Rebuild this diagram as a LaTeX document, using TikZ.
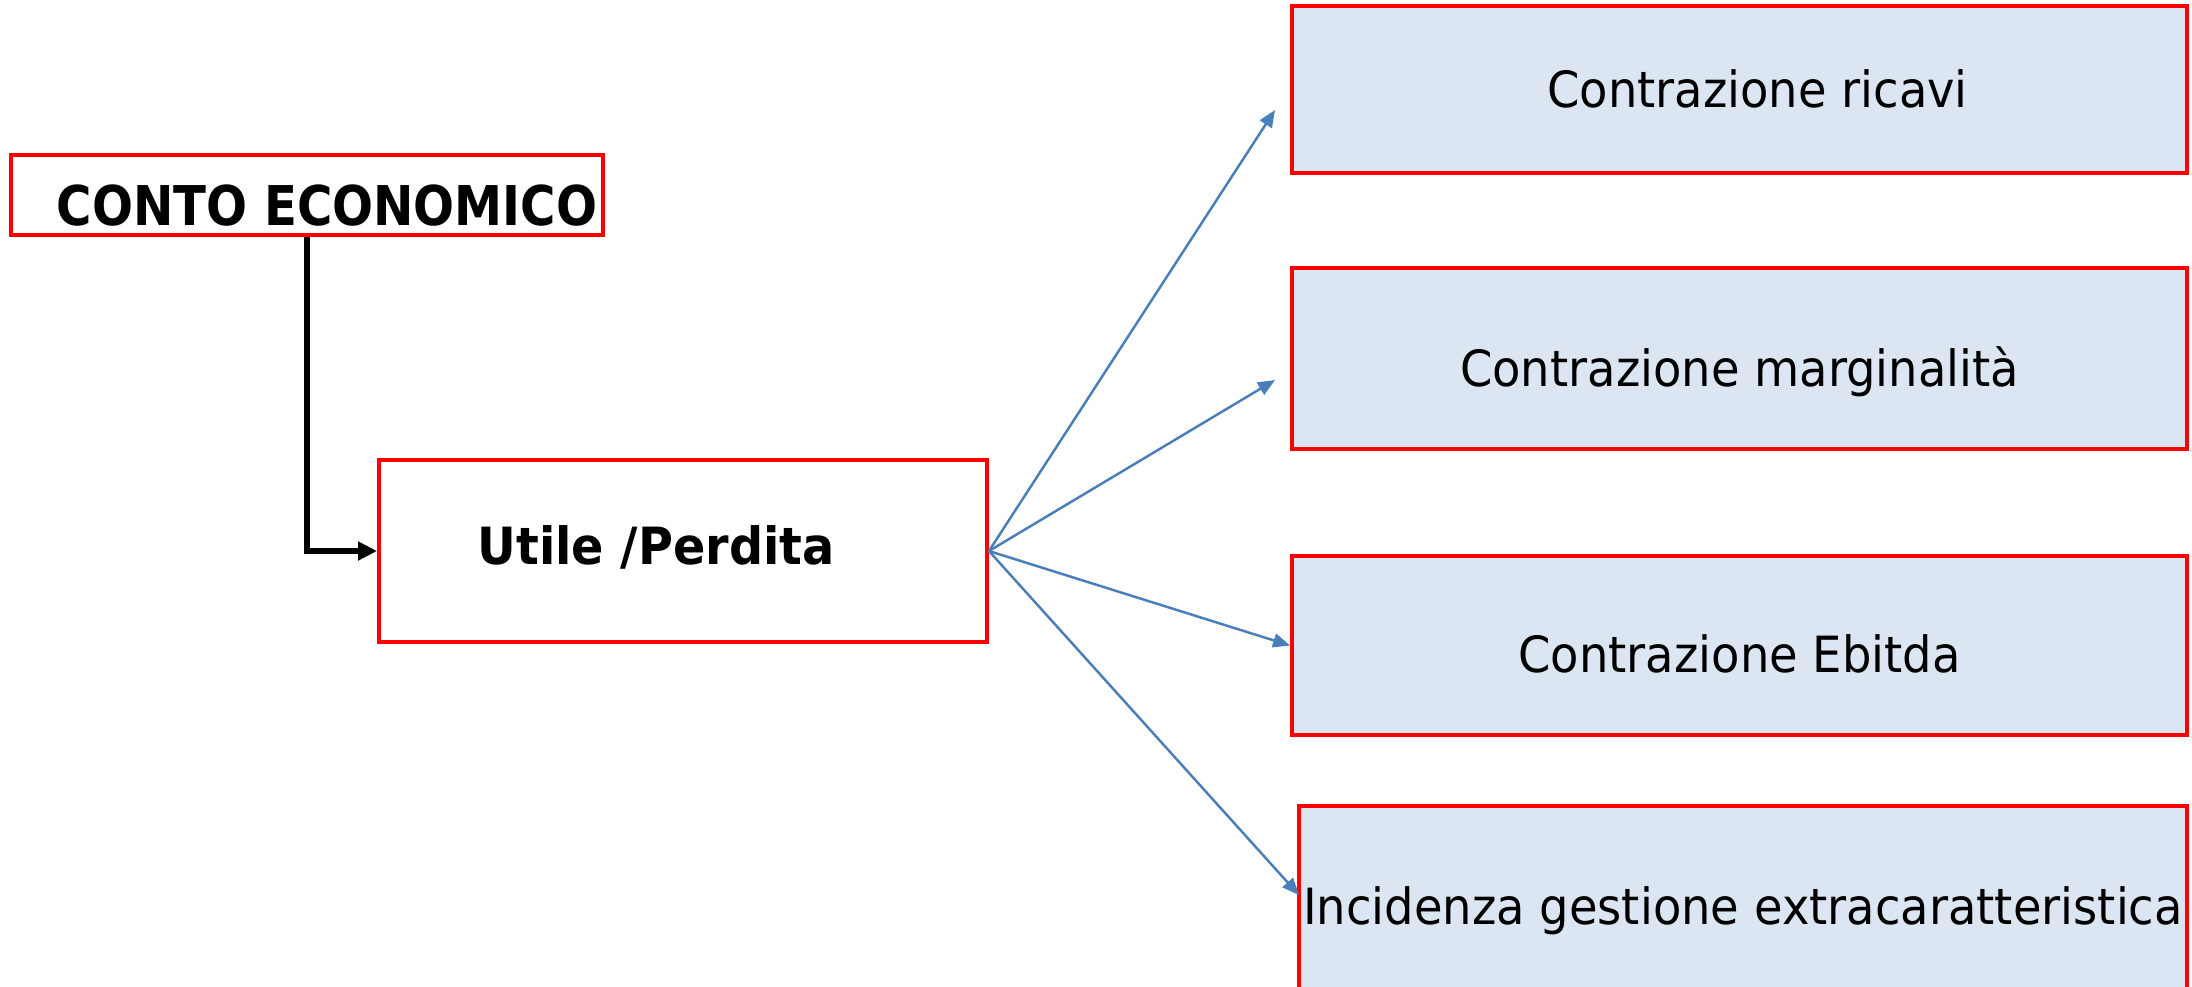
\documentclass[tikz,border=0pt]{standalone}
\usepackage{fontspec}
\usepackage{xcolor}
\usepackage{tikz}
\usetikzlibrary{arrows.meta,positioning,calc}
\newfontfamily\boxfont[FakeStretch=0.93]{DejaVu Sans}
\newfontfamily\headfont[FakeStretch=0.88]{DejaVu Sans}
\definecolor{myred}{RGB}{255,0,0}
\definecolor{myblue}{RGB}{74,126,187}
\definecolor{myfill}{RGB}{220,230,242}

\begin{document}
\begin{tikzpicture}[
    redbox/.style={draw=myred, line width=1.1pt, inner sep=0pt, text depth=0pt},
    itembox/.style={redbox, fill=myfill, minimum width=8.95cm,
                    font=\boxfont\fontsize{14.2}{16}\selectfont},
    link/.style={myblue, line width=0.7pt,
                 -{Triangle[length=0.17cm,width=0.14cm]}}]
  \path[use as bounding box, clip] (0,0) rectangle (21.92,-9.86);
  % Left boxes
  \node[redbox, minimum width=5.92cm, minimum height=0.80cm, text height=0.60cm,
        font=\headfont\bfseries\fontsize{15.6}{18}\selectfont]
    (ce) at (3.07,-1.95) {\hspace*{0.40cm}CONTO ECONOMICO};
  \node[redbox, minimum width=6.08cm, minimum height=1.82cm, text height=0.26cm,
        font=\boxfont\bfseries\fontsize{14.6}{17}\selectfont]
    (up) at (6.83,-5.51) {Utile /Perdita\hspace*{0.54cm}};
  % Right boxes
  \node[itembox, minimum height=1.67cm, text height=0.36cm]
    (r1) at (17.395,-0.895) {\hspace*{0.36cm}Contrazione ricavi};
  \node[itembox, minimum height=1.81cm, text height=0.55cm]
    (r2) at (17.395,-3.585) {Contrazione marginalità};
  \node[itembox, minimum height=1.79cm, text height=0.53cm]
    (r3) at (17.395,-6.455) {Contrazione Ebitda};
  \node[itembox, minimum width=8.88cm, minimum height=2.00cm, text height=0.36cm]
    (r4) at (17.43,-9.06) {Incidenza gestione extracaratteristica};
  % Arrow ends
  \coordinate (t1) at (12.75,-1.10);
  \coordinate (t2) at (12.75,-3.80);
  \coordinate (t4) at (12.99,-8.95);
  % Connectors
  \draw[line width=1.6pt, -{Triangle[length=0.19cm,width=0.18cm]}]
    (ce.south) |- (up.west);
  \draw[link] (up.east) -- (t1);
  \draw[link] (up.east) -- (t2);
  \draw[link] (up.east) -- (r3.west);
  \draw[link] (up.east) -- (t4);
\end{tikzpicture}
\end{document}
